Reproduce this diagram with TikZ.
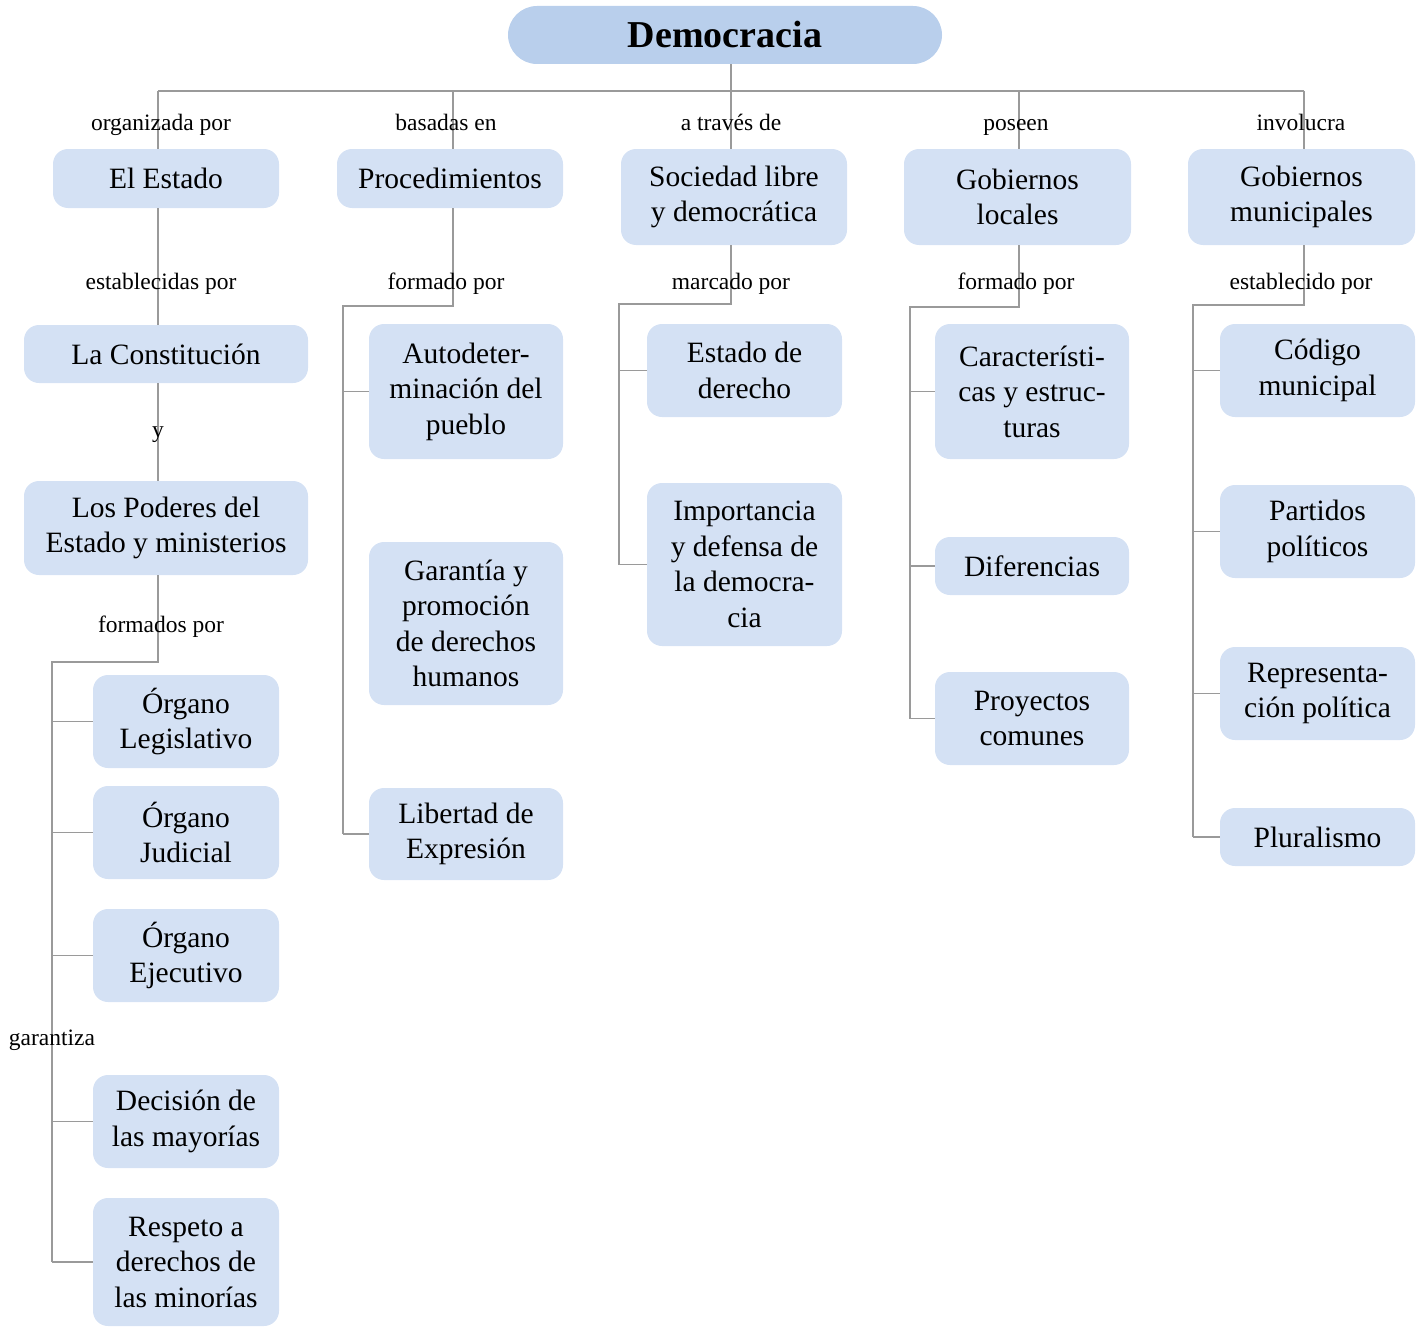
\documentclass[tikz,border=0pt]{standalone}
\usepackage{fontspec}
\setmainfont{Liberation Serif}
\definecolor{topblue}{HTML}{B9CFEC}
\definecolor{boxblue}{HTML}{D4E1F4}
\definecolor{linegray}{HTML}{9A9A9A}

\begin{document}
\begin{tikzpicture}[x=1pt,y=-1pt,
    every node/.style={inner sep=0pt},
    topbox/.style={fill=topblue,rounded corners=29pt,minimum width=434pt,minimum height=58pt,
      font=\fontsize{38}{42}\selectfont\bfseries},
    box/.style 2 args={fill=boxblue,rounded corners=15pt,align=center,
      minimum width=#1,minimum height=#2,font=\fontsize{29.5}{35.5}\selectfont},
    lab/.style={anchor=base,font=\fontsize{23.5}{27}\selectfont},
    conn/.style={draw=linegray,line width=1.4pt}]
    \useasboundingbox (0,0) rectangle (1420,1327);

    \node[topbox] (demo) at (725,35) {Democracia};

    % first level
    \node[box={226}{59}] (estado) at (166,178.5) {El Estado};
    \node[box={226}{59}] (proced) at (450,178.5) {Procedimientos};
    \node[box={226}{96}] (socied) at (734,197) {Sociedad libre\\y democrática};
    \node[box={227}{96}] (gobloc) at (1017.5,197) {Gobiernos\\locales};
    \node[box={227}{96}] (gobmun) at (1301.5,197) {Gobiernos\\municipales};

    % column 1
    \node[box={284}{58}] (constit) at (166,354) {La Constitución};
    \node[box={284}{94}] (poderes) at (166,528) {Los Poderes del\\Estado y ministerios};
    \node[box={186}{93}] (legis) at (186,721.5) {Órgano\\Legislativo};
    \node[box={186}{93}] (judic) at (186,832.5) {Órgano\\Judicial};
    \node[box={186}{93}] (ejec) at (186,955.5) {Órgano\\Ejecutivo};
    \node[box={186}{93}] (decis) at (186,1121.5) {Decisión de\\las mayorías};
    \node[box={186}{128}] (respeto) at (186,1262) {Respeto a\\derechos de\\las minorías};

    % column 2
    \node[box={194}{135}] (autodet) at (466,391.5) {Autodeter-\\minación del\\pueblo};
    \node[box={194}{163}] (garant) at (466,623.5) {Garantía y\\promoción\\de derechos\\humanos};
    \node[box={194}{92}] (libert) at (466,834) {Libertad de\\Expresión};

    % column 3
    \node[box={195}{93}] (estder) at (744.5,370.5) {Estado de\\derecho};
    \node[box={195}{163}] (import) at (744.5,564.5) {Importancia\\y defensa de\\la democra-\\cia};

    % column 4
    \node[box={194}{135}] (caract) at (1032,391.5) {Característi-\\cas y estruc-\\turas};
    \node[box={194}{58}] (difer) at (1032,566) {Diferencias};
    \node[box={194}{93}] (proyec) at (1032,718.5) {Proyectos\\comunes};

    % column 5
    \node[box={195}{93}] (codigo) at (1317.5,370.5) {Código\\municipal};
    \node[box={195}{93}] (partid) at (1317.5,531.5) {Partidos\\políticos};
    \node[box={195}{93}] (repres) at (1317.5,693.5) {Representa-\\ción política};
    \node[box={195}{58}] (plural) at (1317.5,837) {Pluralismo};

    % trunk
    \coordinate (t1) at (158,91);
    \coordinate (t2) at (453,91);
    \coordinate (t3) at (731,91);
    \coordinate (t4) at (1019,91);
    \coordinate (t5) at (1304,91);
    \draw[conn] (t1) -- (t5);
    \draw[conn] (t3 |- demo.south) -- (t3);
    \draw[conn] (t1) -- (t1 |- estado.north);
    \draw[conn] (t2) -- (t2 |- proced.north);
    \draw[conn] (t3) -- (t3 |- socied.north);
    \draw[conn] (t4) -- (t4 |- gobloc.north);
    \draw[conn] (t5) -- (t5 |- gobmun.north);

    \node[lab] (l1) at (161,130) {organizada por};
    \node[lab] (l2) at (446,130) {basadas en};
    \node[lab] (l3) at (731,130) {a través de};
    \node[lab] (l4) at (1016,130) {poseen};
    \node[lab] (l5) at (1301,130) {involucra};

    % column 1 connectors
    \draw[conn] (t1 |- estado.south) -- (t1 |- constit.north);
    \draw[conn] (t1 |- constit.south) -- (t1 |- poderes.north);
    \coordinate (b1) at (52,662);
    \draw[conn] (t1 |- poderes.south) |- (b1) -- (b1 |- respeto.west);
    \foreach \n in {legis,judic,ejec,decis,respeto}
      \draw[conn] (b1 |- \n.west) -- (\n.west);
    \node[lab] (l6) at (161,289) {establecidas por};
    \node[lab] (l7) at (158,437) {y};
    \node[lab] (l8) at (161,632) {formados por};
    \node[lab] (l9) at (52,1045) {garantiza};

    % column 2 connectors
    \coordinate (b2) at (343,306);
    \draw[conn] (t2 |- proced.south) |- (b2) -- (b2 |- libert.west);
    \foreach \n in {autodet,libert}
      \draw[conn] (b2 |- \n.west) -- (\n.west);
    \node[lab] (l10) at (446,289) {formado por};

    % column 3 connectors
    \coordinate (b3) at (619,304);
    \draw[conn] (t3 |- socied.south) |- (b3) -- (b3 |- import.west);
    \foreach \n in {estder,import}
      \draw[conn] (b3 |- \n.west) -- (\n.west);
    \node[lab] (l11) at (731,289) {marcado por};

    % column 4 connectors
    \coordinate (b4) at (910,307);
    \draw[conn] (t4 |- gobloc.south) |- (b4) -- (b4 |- proyec.west);
    \foreach \n in {caract,difer,proyec}
      \draw[conn] (b4 |- \n.west) -- (\n.west);
    \node[lab] (l12) at (1016,289) {formado por};

    % column 5 connectors
    \coordinate (b5) at (1193,305);
    \draw[conn] (t5 |- gobmun.south) |- (b5) -- (b5 |- plural.west);
    \foreach \n in {codigo,partid,repres,plural}
      \draw[conn] (b5 |- \n.west) -- (\n.west);
    \node[lab] (l13) at (1301,289) {establecido por};
\end{tikzpicture}
\end{document}
